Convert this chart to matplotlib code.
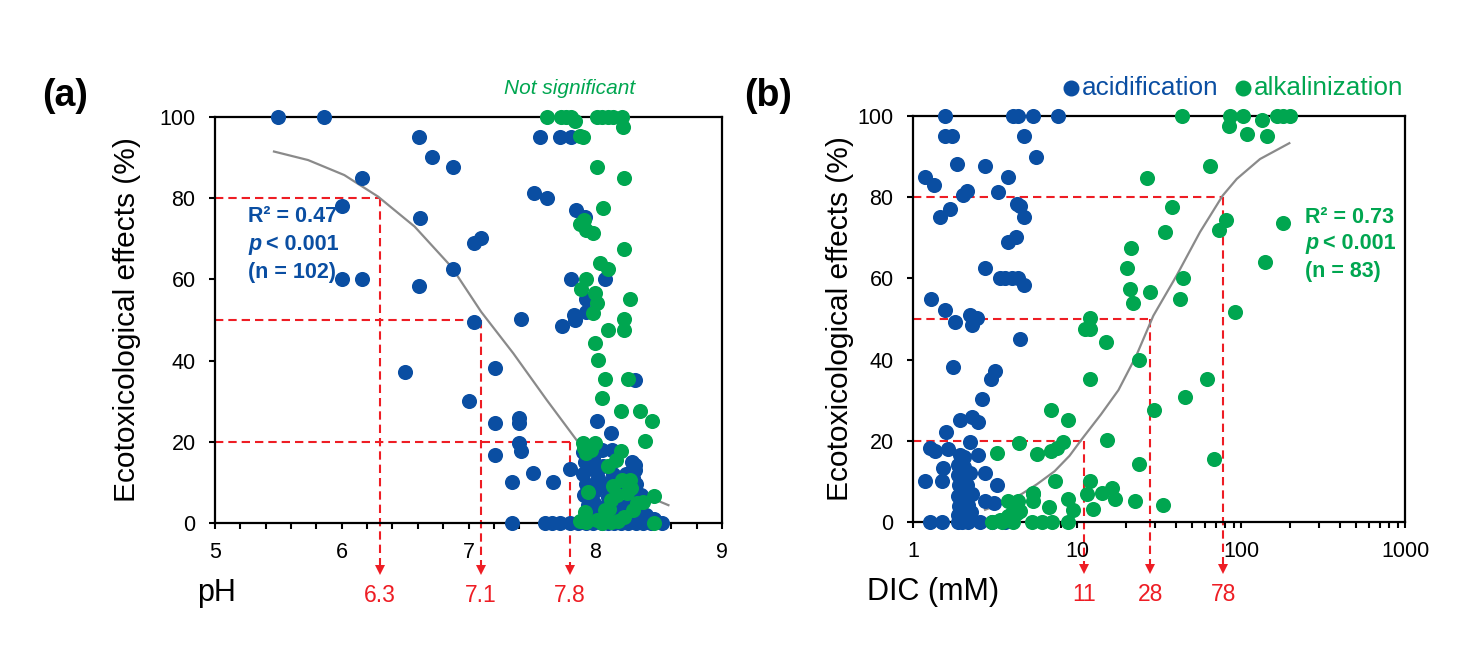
import matplotlib
matplotlib.use('Agg')
import matplotlib.pyplot as plt
from matplotlib.ticker import MultipleLocator, LogLocator, NullFormatter, FixedLocator, FixedFormatter

plt.rcParams['font.family'] = ['Liberation Sans', 'DejaVu Sans']

# ---------------- data: panel (a) pH ----------------
ph_acid = [5.50, 5.86, 6.61, 6.71, 6.88, 6.16, 6.00, 6.62, 7.04, 7.10, 6.88, 6.00, 6.16, 6.61,
           7.04, 6.50, 7.21, 7.00, 7.21, 7.21, 7.41, 7.83, 7.84, 7.74, 7.93, 7.40, 7.40, 7.40,
           7.41, 8.01, 8.12, 7.51, 7.34, 7.67, 7.80, 8.31, 8.31, 8.31, 8.13, 8.31, 7.81, 8.08,
           7.93, 7.56, 7.72, 7.81, 7.52, 7.62, 7.85, 7.92,
           7.34, 7.60, 7.66, 7.72, 7.80, 7.86, 7.93, 7.98, 8.05, 8.10, 8.15, 8.20, 8.26, 8.32,
           8.38, 8.44, 8.53,
           7.90, 7.92, 7.90, 7.93, 7.91, 7.94, 7.93, 7.98, 8.00, 8.02, 8.00, 7.99, 8.03, 8.06,
           8.08, 8.10, 8.07, 8.12, 8.05, 8.14, 8.16, 8.13, 8.18, 8.29, 8.30, 8.32, 8.28, 8.33,
           8.36, 8.22, 8.24, 7.96, 8.15, 8.40, 8.46]
eff_acid_a = [100, 100, 95.1, 90.2, 87.8, 85, 78, 75.2, 68.9, 70.3, 62.6, 60.2, 60.2, 58.5,
              49.4, 37.2, 38.1, 30.1, 24.6, 16.7, 50.2, 51.2, 50.0, 48.5, 52.0, 25.8, 24.6, 19.8,
              17.8, 25.2, 22.1, 12.2, 10.2, 10.2, 13.2, 35.2, 14.3, 13.0, 18.0, 8.0, 60.1, 60.1,
              55.1, 95.1, 95.1, 95.1, 81.2, 80.1, 77.1, 75.4,
              0, 0, 0, 0, 0, 0, 0, 0, 0, 0, 0, 0, 0, 0,
              0, 0, 0,
              17.5, 15, 12, 9.5, 7, 4.5, 2, 16, 13, 11, 8, 5, 3, 14,
              9, 6.5, 4, 2, 18, 12, 8.5, 10.5, 3.5, 15, 11, 9.5, 5.5, 3,
              7, 4, 12, 1, 1.5, 2, 1]

ph_alk = [7.62, 7.73, 7.77, 7.81, 7.84, 8.01, 8.05, 8.10, 8.14, 8.21,
          8.22, 7.88, 7.90, 8.01, 8.23, 8.06, 7.88, 7.91, 7.93, 7.98, 8.23, 8.04, 8.10, 7.93,
          7.89, 8.00, 8.01, 7.98, 8.27, 8.23, 8.23, 8.10, 8.00, 8.02, 8.08, 8.26, 8.05, 8.20,
          8.35, 8.45, 8.39, 7.90, 8.00, 7.93, 7.97, 8.20, 8.16, 8.10, 8.21, 8.27, 7.94, 8.46,
          8.12, 8.17, 8.25, 8.33, 8.38, 7.92, 7.93, 8.01, 8.08, 8.12, 8.23, 8.30, 8.46, 8.11,
          7.88, 8.05, 8.18, 8.28, 8.14, 7.91]
eff_alk_a = [100, 100, 100, 100, 99, 100, 100, 100, 100, 100,
             97.6, 95.4, 95.0, 87.6, 85, 77.7, 73.6, 74.6, 72.2, 71.4, 67.5, 64.1, 62.6, 60.1,
             57.6, 56.6, 54.3, 51.7, 55.1, 50.2, 47.5, 47.5, 44.3, 40.1, 35.4, 35.4, 30.9, 27.7,
             27.7, 25.2, 20.3, 19.6, 19.8, 17.2, 18, 17.8, 15.5, 14, 10.6, 10.6, 7.6, 6.7,
             5.7, 6.9, 7.3, 4.9, 5.2, 2.8, 0.3, 0.7, 3.2, 0.3, 1.6, 3.2, 0, 3.5,
             0.5, 0, 0.5, 8.7, 9, 18.5]

ph_fit = [5.465, 5.734, 6.02, 6.286, 6.575, 6.865, 7.10, 7.353, 7.617, 7.853, 8.142, 8.353, 8.577]
ph_fit_eff = [91.5, 89.4, 85.7, 80.4, 73.0, 63.1, 52.0, 41.8, 30.3, 20.4, 11.4, 7.3, 4.4]

ph_thresh = [6.3, 7.1, 7.8]
ph_thresh_eff = [80, 50, 20]
ph_thresh_labels = ['6.3', '7.1', '7.8']

# ---------------- data: panel (b) DIC ----------------
dic_acid = [1.57, 4.09, 4.39, 5.37, 7.69,
            1.57, 1.72, 4.75, 5.6, 1.86, 2.75, 1.18, 1.35, 3.78, 2.03, 2.13, 3.28, 4.32, 4.49,
            4.75, 1.68, 1.46, 3.81, 4.23, 2.75, 3.39, 3.64, 4.0, 4.39, 4.75, 1.29, 1.57, 1.80,
            2.23, 2.44, 2.28, 4.49, 1.75, 3.16, 2.99, 2.62, 1.94, 2.28, 2.50, 1.59, 1.27, 1.36,
            1.64, 2.23, 2.50, 1.52, 1.50, 1.19, 2.75, 3.24, 2.75, 3.13,
            1.27, 1.50, 1.89, 2.0, 2.17, 2.56, 3.02, 3.64,
            1.88, 1.95, 2.05, 1.87, 1.97, 2.10, 1.90, 2.00, 2.12, 1.88, 1.98, 2.08, 1.90, 2.02,
            2.15, 1.87, 1.97, 2.10, 2.25, 2.30, 2.22, 1.93, 2.05]
eff_acid_b = [100, 100, 100, 100, 100,
              95.1, 95.1, 95.1, 90, 88.1, 87.6, 85, 83, 85, 80.6, 81.4, 81.3, 78.2, 77.9,
              75.1, 77, 75.1, 68.9, 70.2, 62.5, 60, 60, 60, 60, 58.3, 55, 52.2, 49.3,
              51.1, 50.3, 48.6, 45.1, 38.1, 37.3, 35.1, 30.2, 25.2, 25.9, 24.7, 22.1, 18.2, 17.4,
              18, 19.8, 16.6, 13.3, 10, 10, 12, 9, 5.1, 4.7,
              0, 0, 0, 0, 0, 0, 0, 0,
              14, 14.5, 13.5, 11.5, 11, 11.8, 9, 8.5, 9.2, 6.5, 6, 6.8, 4, 3.5,
              4.2, 1.8, 2, 1.5, 2.5, 7, 12, 16.5, 16]

dic_alk = [43.5, 85.7, 103.3, 133.7, 165, 181, 199, 84.5, 109, 143.5, 64.7, 26.7, 37.8, 34.3,
           81, 73.5, 179.6, 140, 44.5, 42.5, 27.9, 91.9, 61.8, 45.6, 29.5, 68.4, 33.6, 21.9,
           12.0, 11.2, 12.0, 15.0, 24, 12.0, 6.94, 8.78, 4.45, 15.2, 8.26, 7.52, 6.94, 3.24,
           5.68, 23.9, 7.34, 12.0, 16.3, 17.1, 11.5, 14.2, 22.6, 12.6, 5.37, 5.37, 6.78, 8.86,
           9.49, 3.81, 4.39, 4.49, 4.0, 3.02, 3.48, 4.09, 5.3, 6.1, 7.0, 8.87, 3.39, 3.81,
           4.29, 5.42, 21.3, 20.1, 21.1]
eff_alk_b = [100, 100, 100, 99, 100, 100, 100, 97.5, 95.6, 95.1, 87.6, 84.8, 77.6, 71.4,
             74.3, 71.8, 73.7, 64.1, 60.1, 55, 56.6, 51.6, 35.1, 30.8, 27.7, 15.6, 4.3, 53.9,
             50.3, 47.6, 47.6, 44.3, 40, 35.1, 27.5, 25.1, 19.5, 20.1, 19.7, 18.3, 17.4, 17,
             16.8, 14.2, 10, 10, 8.4, 5.7, 6.8, 7.2, 5.1, 3.2, 7.2, 5.1, 3.8, 5.7,
             2.9, 5.1, 5.1, 2.7, 2.3, 0, 0, 0, 0, 0, 0, 0, 0.6, 1.4,
             2.3, 6.8, 67.6, 62.5, 57.5]

dic_fit = [2.75, 3.6, 4.6, 5.7, 7.3, 9.0, 10.7, 14.0, 17.9, 23.0, 29.2, 40.5, 56.2, 77.3, 94.2, 130.6, 197]
dic_fit_eff = [3.0, 4.8, 6.9, 9.3, 12.5, 16.3, 20.4, 26.5, 32.5, 41.0, 50.8, 60.7, 71.4, 80.4, 84.5, 89.4, 93.3]

dic_thresh = [78, 28, 11]
dic_thresh_eff = [80, 50, 20]
dic_thresh_labels = ['78', '28', '11']

# ---------------- styles ----------------
BLUE = '#0a4ea2'
GREEN = '#00a650'
RED = '#ee1d24'
GRAY = '#8a8a8a'
MS = 118

fig = plt.figure(figsize=(14.79, 6.49), dpi=100)
axa = fig.add_axes([0.1454, 0.1941, 0.3428, 0.6256])
axb = fig.add_axes([0.6173, 0.1957, 0.3327, 0.6256])


def style_axis(ax):
    for sp in ax.spines.values():
        sp.set_linewidth(1.6)
        sp.set_zorder(2)
    ax.tick_params(which='both', direction='out', length=4.5, width=1.5,
                   labelsize=15.5, pad=9.5, top=False, right=False)
    ax.set_ylim(0, 100)
    ax.set_yticks([0, 20, 40, 60, 80, 100])


def thresholds(ax, xs, ys, xmin, labels):
    for x, y, lab in zip(xs, ys, labels):
        ax.plot([xmin, x], [y, y], color=RED, lw=1.5, dashes=(4, 2.4), zorder=1, clip_on=False)
        ax.plot([x, x], [y, -11.2], color=RED, lw=1.5, dashes=(4, 2.4), zorder=1, clip_on=False)
        ax.plot([x], [-11.6], marker='v', color=RED, markersize=6.5, clip_on=False, zorder=1,
                markeredgewidth=0)
        ax.text(x, -17.8, lab, color=RED, fontsize=16.5, ha='center', va='center')


stat_font = ['Liberation Sans Narrow', 'Liberation Sans', 'DejaVu Sans']
SF = 15.5


def stats(ax, x0, ys, lines, color):
    ax.text(x0, ys[0], lines[0], transform=ax.transAxes, fontsize=SF, fontweight='bold',
            color=color, ha='left', va='center', family=stat_font)
    ax.text(x0, ys[1], 'p', transform=ax.transAxes, fontsize=SF, fontweight='bold',
            style='italic', color=color, ha='left', va='center', family=stat_font)
    ax.text(x0 + 0.036, ys[1], '< 0.001', transform=ax.transAxes, fontsize=SF, fontweight='bold',
            color=color, ha='left', va='center', family=stat_font)
    ax.text(x0, ys[2], lines[2], transform=ax.transAxes, fontsize=SF, fontweight='bold',
            color=color, ha='left', va='center', family=stat_font)


# ---- panel a ----
style_axis(axa)
axa.set_xlim(5, 9)
axa.set_xticks([5, 6, 7, 8, 9])
axa.xaxis.set_minor_locator(MultipleLocator(0.2))
thresholds(axa, ph_thresh, ph_thresh_eff, 5, ph_thresh_labels)
axa.plot(ph_fit, ph_fit_eff, color=GRAY, lw=1.6, zorder=2)
axa.scatter(ph_acid, eff_acid_a, s=MS, color=BLUE, linewidths=0, zorder=3, clip_on=False)
axa.scatter(ph_alk, eff_alk_a, s=MS, color=GREEN, linewidths=0, zorder=4, clip_on=False)
axa.set_ylabel('Ecotoxicological effects (%)', fontsize=21.5)
axa.yaxis.set_label_coords(-0.146, 0.5)
axa.text(0.002, -0.172, 'pH', transform=axa.transAxes, fontsize=22, ha='center', va='center')
axa.text(0.70, 1.071, 'Not significant', transform=axa.transAxes, fontsize=15,
         style='italic', color=GREEN, ha='center', va='center')
stats(axa, 0.065, [0.756, 0.687, 0.618], ['R² = 0.47', '', '(n = 102)'], BLUE)

# ---- panel b ----
style_axis(axb)
axb.set_xscale('log')
axb.set_xlim(1, 1000)
axb.xaxis.set_major_locator(FixedLocator([1, 10, 100, 1000]))
axb.xaxis.set_major_formatter(FixedFormatter(['1', '10', '100', '1000']))
axb.xaxis.set_minor_locator(LogLocator(base=10, subs=[2, 3, 4, 5, 6, 7, 8, 9]))
axb.xaxis.set_minor_formatter(NullFormatter())
thresholds(axb, dic_thresh, dic_thresh_eff, 1, dic_thresh_labels)
axb.plot(dic_fit, dic_fit_eff, color=GRAY, lw=1.6, zorder=2)
axb.scatter(dic_acid, eff_acid_b, s=MS, color=BLUE, linewidths=0, zorder=3, clip_on=False)
axb.scatter(dic_alk, eff_alk_b, s=MS, color=GREEN, linewidths=0, zorder=4, clip_on=False)
axb.set_ylabel('Ecotoxicological effects (%)', fontsize=21.5)
axb.yaxis.set_label_coords(-0.119, 0.5)
axb.text(-0.093, -0.172, 'DIC (mM)', transform=axb.transAxes, fontsize=22, ha='left', va='center')
stats(axb, 0.797, [0.751, 0.685, 0.618], ['R² = 0.73', '', '(n = 83)'], GREEN)

# legend
axb.plot([0.321], [1.069], 'o', color=BLUE, markersize=10.5, transform=axb.transAxes, clip_on=False)
axb.text(0.3435, 1.069, 'acidification', transform=axb.transAxes, fontsize=18.8,
         color=BLUE, ha='left', va='center')
axb.plot([0.6707], [1.069], 'o', color=GREEN, markersize=10.5, transform=axb.transAxes, clip_on=False)
axb.text(0.693, 1.069, 'alkalinization', transform=axb.transAxes, fontsize=18.8,
         color=GREEN, ha='left', va='center')

fig.text(0.044, 0.852, '(a)', fontsize=27, fontweight='bold', ha='center', va='center')
fig.text(0.519, 0.852, '(b)', fontsize=27, fontweight='bold', ha='center', va='center')

fig.savefig('out.png', dpi=100)
